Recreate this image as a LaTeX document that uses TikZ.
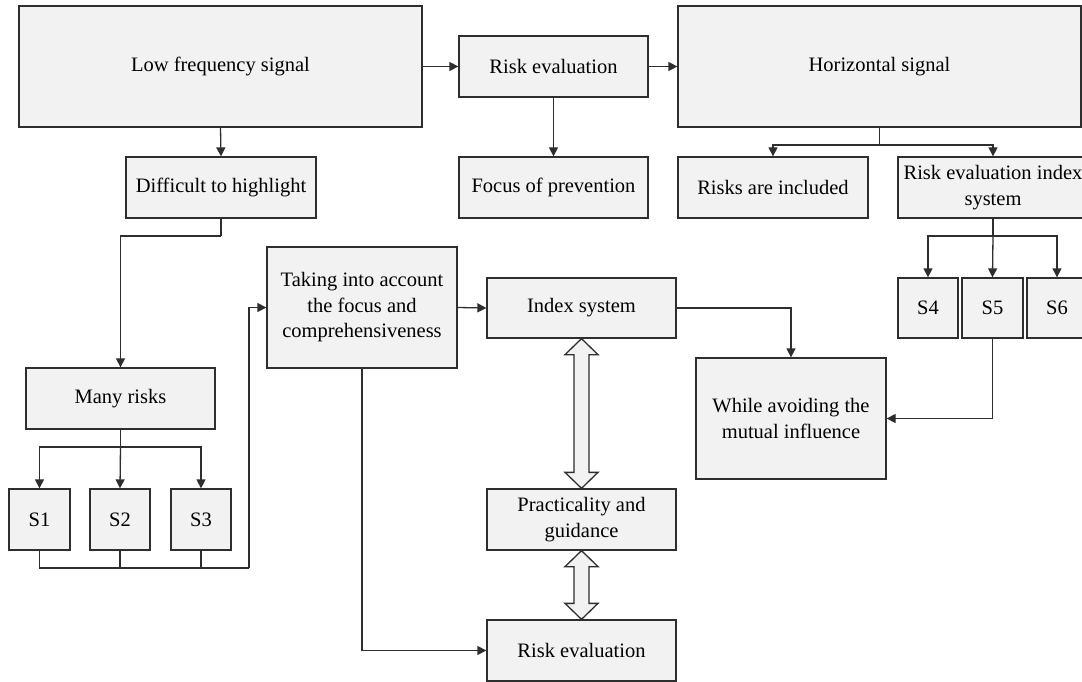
\documentclass[tikz,border=0pt]{standalone}
\usepackage{fontspec}
\setmainfont{Liberation Serif}
\usetikzlibrary{arrows.meta,calc}
\definecolor{boxc}{HTML}{F1F2F1}
\definecolor{linec}{HTML}{2E2E2E}
\newcommand\dblarr[2]{%
  \draw[dblstyle] (#1) -- ($(#1)+(16.5,16)$) -- ($(#1)+(7.5,16)$) -- ($(#2)+(7.5,-16)$) -- ($(#2)+(16.5,-16)$) -- (#2)
    -- ($(#2)+(-16.5,-16)$) -- ($(#2)+(-7.5,-16)$) -- ($(#1)+(-7.5,16)$) -- ($(#1)+(-16.5,16)$) -- cycle;}
\begin{document}
\begin{tikzpicture}[x=1pt,y=-1pt,
  box/.style={draw=linec, fill=boxc, line width=1.3pt, inner sep=0pt, align=center,
    font=\fontsize{20.5}{25.5}\selectfont},
  conn/.style={draw=linec, line width=1.3pt},
  arr/.style={conn, -{Triangle[length=9pt,width=9pt]}},
  dblstyle/.style={draw=linec, fill=boxc, line width=1.3pt, line join=miter}]
\fill[white] (0,0) rectangle (1082,682);
\useasboundingbox (0,0) rectangle (1082,682);
% top row
\node[box, minimum width=403pt, minimum height=121pt] (lfs) at (220.5,66.5) {Low frequency signal};
\node[box, minimum width=189pt, minimum height=61pt] (re1) at (553.5,66.5) {Risk evaluation};
\node[box, minimum width=403pt, minimum height=121pt] (hs) at (879.5,66.5) {Horizontal signal};
% second row
\node[box, minimum width=190pt, minimum height=61pt] (dth) at (221,187.5) {Difficult to highlight};
\node[box, minimum width=189pt, minimum height=61pt] (fop) at (553.5,187.5) {Focus of prevention};
\node[box, minimum width=190pt, minimum height=61pt] (ri) at (773,187.5) {Risks are included};
\node[box, minimum width=190pt, minimum height=61pt] (ris) at (993,187.5) {Risk evaluation index\\system};
% S4-S6
\node[box, minimum width=60pt, minimum height=60pt] (s4) at (928,308) {S4};
\node[box, minimum width=61pt, minimum height=60pt] (s5) at (992.5,308) {S5};
\node[box, minimum width=60pt, minimum height=60pt] (s6) at (1057,308) {S6};
% middle
\node[box, minimum width=190pt, minimum height=121pt] (tia) at (362,307.5) {Taking into account\\the focus and\\comprehensiveness};
\node[box, minimum width=189pt, minimum height=60pt] (is) at (581.5,308) {Index system};
\node[box, minimum width=190pt, minimum height=121pt] (wa) at (791,418.5) {While avoiding the\\mutual influence};
\node[box, minimum width=189pt, minimum height=61pt] (pg) at (581.5,519.5) {Practicality and\\guidance};
\node[box, minimum width=189pt, minimum height=61pt] (re2) at (581.5,650.5) {Risk evaluation};
% left column
\node[box, minimum width=189pt, minimum height=61pt] (mr) at (120.5,398.5) {Many risks};
\node[box, minimum width=61pt, minimum height=61pt] (s1) at (39.5,519.5) {S1};
\node[box, minimum width=60pt, minimum height=61pt] (s2) at (120,519.5) {S2};
\node[box, minimum width=60pt, minimum height=61pt] (s3) at (201,519.5) {S3};
% junction coordinates
\coordinate (hsj) at (879.5,145);
\coordinate (risj) at (993,236);
\coordinate (dj) at (221,236);
\coordinate (mrj) at (120.5,447);
\coordinate (bj) at (249,568);
% connectors
\draw[arr] (lfs.east) -- (re1.west);
\draw[arr] (re1.east) -- (hs.west);
\draw[arr] (lfs.south) -- (dth.north);
\draw[arr] (re1.south) -- (fop.north);
\draw[conn] (hs.south) -- (hsj);
\draw[arr] (hsj) -| (ri.north);
\draw[arr] (hsj) -| (ris.north);
\draw[conn] (ris.south) -- (risj);
\draw[arr] (risj) -| (s4.north);
\draw[arr] (risj) -- (s5.north);
\draw[arr] (risj) -| (s6.north);
\draw[arr] (s5.south) |- (wa.east);
\draw[arr] (is.east) -| (wa.north);
\draw[arr] (tia.east) -- (is.west);
\draw[arr] (tia.south) |- (re2.west);
\draw[conn] (dth.south) -- (dj);
\draw[arr] (dj) -| (mr.north);
\draw[conn] (mr.south) -- (mrj);
\draw[arr] (mrj) -| (s1.north);
\draw[arr] (mrj) -- (s2.north);
\draw[arr] (mrj) -| (s3.north);
\draw[conn] (s1.south) |- (bj);
\draw[conn] (s2.south) -- (s2.south |- bj);
\draw[conn] (s3.south) -- (s3.south |- bj);
\draw[arr] (bj) |- (tia.west);
% double arrows
\dblarr{is.south}{pg.north}
\dblarr{pg.south}{re2.north}
\end{tikzpicture}
\end{document}
